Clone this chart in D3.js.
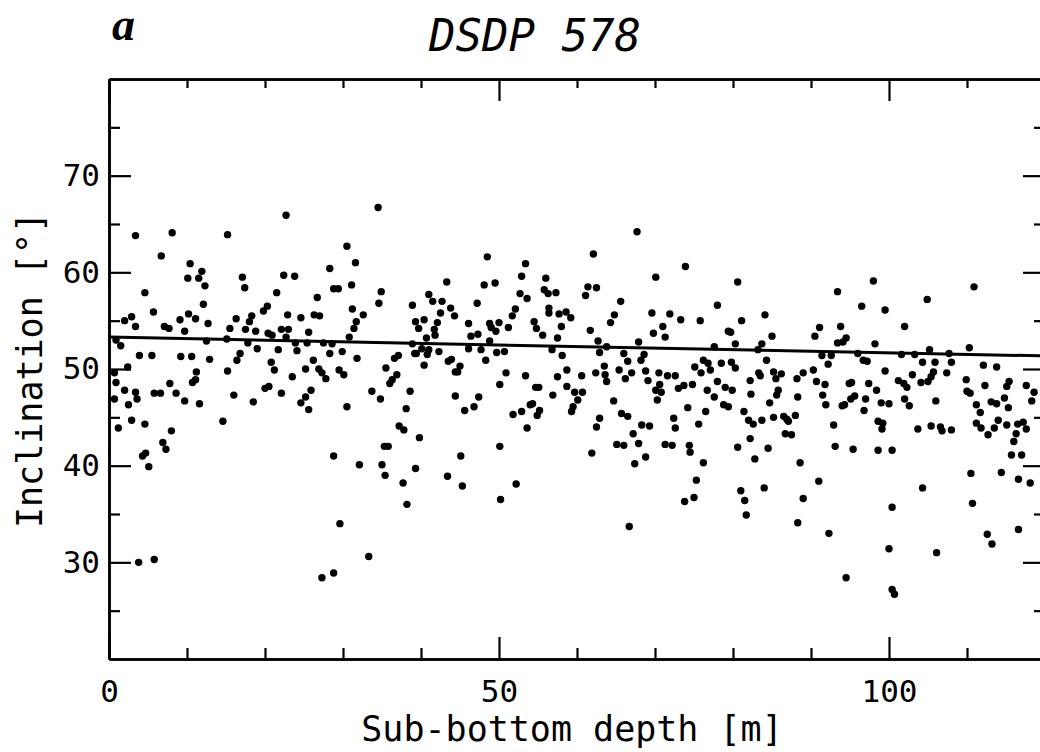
<!DOCTYPE html>
<html>
<head>
<meta charset="utf-8">
<script src="https://cdn.jsdelivr.net/npm/d3@7"></script>
<style>
  body { margin: 0; background: #fff; }
  svg { display: block; }
</style>
</head>
<body>
<svg id="chart" width="1040" height="752"></svg>
<script>
// data: sub-bottom depth [m] and inclination [deg]
var depth = [
  3.4,8.1,15.2,6.7,10.4,11.9,10.1,11.5,17.1,12.3,17.4,4.6,12.1,5.7,2.9,2.0,3.4,7.1,7.7,9.1,
  10.2,11.1,9.7,12.7,15.5,16.3,17.5,18.0,18.3,18.8,0.9,1.5,12.5,15.1,17.8,19.0,3.9,5.5,9.2,10.6,
  12.9,16.8,16.4,2.4,0.7,11.2,15.2,11.1,10.7,7.8,0.9,2.0,3.4,5.8,6.6,8.6,3.6,0.7,2.5,9.7,
  11.6,16.0,18.5,2.9,4.6,1.2,14.6,8.0,6.9,7.3,4.7,4.3,5.1,3.8,5.8,
  22.7,34.5,30.5,31.6,28.3,22.4,23.8,21.5,28.8,29.4,31.1,34.9,34.6,26.7,20.3,19.8,22.9,24.6,26.3,27.0,
  31.2,32.6,31.7,31.4,22.1,23.0,25.6,20.4,20.9,22.7,30.8,23.9,25.4,27.5,28.6,21.7,24.1,28.3,29.9,31.8,
  37.1,36.6,20.8,21.2,26.2,25.2,26.9,27.3,27.8,29.5,30.1,35.5,36.9,36.3,36.0,23.5,20.5,20.0,22.1,25.9,
  25.2,24.6,25.6,30.5,33.7,34.8,38.6,38.1,37.2,37.8,35.3,35.8,28.8,32.1,35.0,35.4,37.7,38.2,29.6,33.3,
  27.3,28.8,
  38.9,39.3,39.7,40.4,41.0,41.5,42.7,43.3,42.5,42.1,41.7,41.8,40.7,43.8,44.3,38.9,39.2,39.4,40.1,40.8,
  41.0,42.3,40.4,43.5,43.9,45.0,44.4,44.7,44.4,45.6,46.8,47.4,39.8,39.3,45.1,43.4,45.3,48.5,48.1,49.5,
  47.2,46.1,46.4,47.3,46.1,47.7,48.3,48.8,49.0,49.6,50.0,48.8,49.7,50.7,51.2,51.7,52.1,52.7,52.9,53.4,
  53.6,54.5,54.8,55.6,56.0,55.8,56.3,57.3,56.4,56.4,57.7,58.6,58.0,57.5,56.8,58.1,58.7,57.5,58.7,56.9,
  50.9,50.1,53.4,54.7,55.1,54.0,54.3,55.2,54.9,52.9,51.8,53.6,50.1,52.2,50.2,
  59.2,67.7,62.1,73.9,70.1,61.4,62.5,61.1,65.6,78.0,64.8,64.3,61.7,69.6,71.9,73.3,75.8,71.0,69.8,71.3,
  62.7,67.9,63.8,62.9,66.0,68.6,66.5,68.2,77.6,63.5,60.6,62.4,63.6,63.8,65.4,66.2,67.0,68.8,69.1,70.5,
  71.6,72.6,70.6,70.1,70.8,70.3,73.0,73.7,74.8,75.1,76.2,76.8,77.1,75.9,78.0,76.7,77.6,76.5,74.2,75.6,
  59.7,60.7,60.1,59.5,59.3,64.7,62.9,62.5,65.7,66.5,68.3,69.3,67.2,67.9,65.1,66.0,68.8,67.4,61.9,72.4,
  72.6,71.3,72.2,74.4,74.5,76.2,75.3,73.8,75.0,66.7,
  80.6,98.0,93.4,96.5,81.1,84.1,85.0,79.4,79.7,91.1,90.5,93.8,94.5,94.1,93.4,80.3,83.7,83.2,78.5,79.8,
  80.3,84.3,91.4,92.6,92.2,96.0,96.7,97.2,79.0,79.9,82.2,83.3,83.5,82.3,85.2,86.2,85.5,88.2,89.0,90.3,
  90.7,91.8,85.8,85.6,88.3,84.7,91.5,91.9,95.2,94.9,97.4,95.6,95.1,94.3,94.0,97.0,96.8,78.8,79.4,81.4,
  82.0,82.6,83.7,85.2,86.5,87.1,88.0,86.7,87.5,86.9,92.9,82.2,80.6,84.5,82.8,93.1,95.4,88.6,91.0,81.0,
  81.5,81.7,84.0,89.0,88.3,92.3,94.5,
  110.9,104.9,99.5,102.0,98.2,101.6,103.3,105.2,107.7,110.3,104.3,105.9,108.0,112.1,113.8,99.5,101.2,101.9,102.3,103.0,
  104.1,105.0,105.7,105.4,107.4,109.9,112.3,115.4,115.1,117.6,118.6,118.3,98.4,99.0,100.0,102.0,102.6,106.0,110.0,110.4,
  111.2,111.7,113.1,113.8,114.8,115.3,98.6,99.2,99.1,103.7,105.4,106.6,106.8,108.0,111.2,111.8,112.7,113.5,114.0,115.1,
  116.5,117.2,117.6,116.3,116.0,115.7,117.0,98.6,100.4,110.5,114.4,116.6,118.1,104.3,110.7,100.4,116.6,112.6,113.2,100.0,
  106.1,100.4,100.7
];

var inclination = [
  63.8,64.1,63.9,61.7,60.9,60.1,59.4,59.4,59.5,58.6,58.4,57.9,56.7,55.9,55.4,55.0,54.4,54.4,54.2,55.1,
  55.7,55.2,53.9,54.7,54.2,55.2,54.1,54.9,55.5,53.9,53.0,52.4,52.9,53.1,52.7,52.1,51.4,51.4,51.3,51.3,
  51.0,51.6,50.9,50.2,49.6,49.7,49.8,48.9,48.6,48.5,48.6,47.8,47.6,47.5,47.5,47.5,46.9,46.9,46.3,46.7,
  46.4,47.3,46.6,44.7,44.3,43.9,44.6,43.6,42.4,41.7,41.3,41.0,39.9,30.0,30.3,
  65.9,66.7,62.7,61.0,60.4,59.7,59.6,57.9,58.3,58.3,58.7,58.0,56.8,57.4,56.5,56.0,55.6,55.3,55.6,55.5,
  56.2,55.6,54.9,54.2,54.1,54.1,53.8,53.7,53.5,53.3,53.3,52.7,52.7,52.7,52.6,52.0,51.9,51.6,51.8,51.1,
  51.4,51.1,50.7,49.9,50.9,50.0,50.0,49.6,49.0,49.9,49.4,50.1,49.4,48.9,48.5,49.2,48.2,48.0,47.5,47.8,
  47.1,46.5,45.8,46.1,47.7,46.9,47.7,45.9,44.1,43.7,42.0,42.0,41.0,40.1,40.1,39.0,38.2,36.0,34.0,30.6,
  28.4,28.9,
  56.6,54.9,54.2,55.1,57.7,57.0,57.0,59.0,55.8,54.8,54.1,53.5,53.2,56.3,55.5,52.6,51.6,51.6,52.1,51.5,
  52.0,51.8,50.4,50.8,51.0,50.3,49.7,49.7,47.2,45.7,46.1,47.1,42.9,39.7,41.0,38.9,37.9,61.6,58.7,58.9,
  56.8,54.7,53.4,53.6,52.1,52.0,50.9,54.7,54.3,53.9,54.8,52.9,51.7,51.8,54.3,55.5,56.2,57.8,59.6,60.9,
  57.3,54.9,54.2,53.5,59.4,58.2,57.8,57.9,56.3,55.8,55.7,55.9,54.4,53.2,52.0,51.4,49.9,49.2,48.2,47.3,
  49.6,48.4,49.3,48.1,48.1,46.3,46.4,45.7,45.2,45.6,45.3,43.9,42.0,38.1,36.5,
  55.3,64.2,61.9,60.6,59.5,58.5,58.4,57.6,57.0,56.6,55.6,54.8,54.0,55.8,55.7,55.1,55.0,54.4,53.7,53.3,
  52.9,52.8,52.3,51.7,51.6,51.5,50.8,50.9,52.3,50.3,49.3,49.6,49.4,48.7,49.9,49.0,49.6,49.8,48.8,49.6,
  49.3,49.3,48.4,47.8,47.6,46.8,48.0,48.3,48.4,50.2,50.9,50.6,49.9,49.6,48.7,47.8,47.1,45.6,46.0,44.3,
  47.6,47.6,46.8,46.1,45.6,46.7,44.9,44.0,45.4,45.1,44.2,44.1,43.3,42.3,42.2,42.1,40.9,40.2,41.3,44.9,
  43.9,42.2,42.1,42.1,41.4,40.3,38.5,36.3,36.7,33.7,
  59.0,59.1,58.0,56.5,55.0,55.6,53.4,53.9,53.8,54.3,53.4,54.4,53.2,52.8,52.7,52.6,52.6,52.0,50.6,50.7,
  50.1,50.9,51.4,51.4,50.5,51.6,50.9,50.8,48.1,47.8,48.8,49.6,49.3,47.4,49.7,49.5,49.0,49.0,49.6,49.9,
  48.7,48.4,47.8,47.3,47.1,46.5,47.3,46.3,48.6,48.5,48.5,47.2,46.9,46.3,46.2,46.9,45.7,46.3,46.1,45.6,
  44.7,44.3,44.7,45.0,45.1,44.6,45.2,43.3,43.2,44.8,44.2,42.8,41.9,41.8,40.7,42.0,41.7,40.3,38.4,37.4,
  36.4,34.9,37.7,36.6,34.1,33.0,28.4,
  58.5,57.2,56.1,54.4,52.6,51.5,51.5,52.0,51.6,52.2,50.7,50.7,50.7,50.4,50.2,49.8,48.8,48.5,48.1,49.4,
  48.6,48.7,49.7,49.2,49.6,48.9,48.3,48.7,48.2,48.3,47.6,46.7,47.8,46.5,46.4,46.9,46.2,46.7,47.7,47.5,
  46.3,45.5,46.6,46.4,47.0,46.0,44.6,44.4,43.8,43.8,44.1,44.0,43.6,43.7,44.4,43.9,43.2,43.9,44.7,44.2,
  44.3,44.5,43.8,43.3,42.5,41.1,41.1,41.6,41.6,39.2,39.3,38.6,38.2,37.7,36.1,35.7,33.4,32.9,31.9,31.4,
  31.0,27.2,26.7
];

// fitted trend line, end points
var trendDepth = [0, 120];
var trendIncl = [53.3, 51.35];

var xMajor = [0, 50, 100];
var xMinor = [10, 20, 30, 40, 60, 70, 80, 90, 110];
var yMajor = [30, 40, 50, 60, 70];
var yMinor = [25, 35, 45, 55, 65, 75];

var margin = {left: 109, top: 79};
var w = 936, h = 580;

var svg = d3.select("#chart");
var g = svg.append("g").attr("transform", "translate(" + margin.left + "," + margin.top + ")");

var x = d3.scaleLinear().domain([0, 120]).range([0, w]);
var y = d3.scaleLinear().domain([20, 80]).range([h, 0]);

var mono = "'DejaVu Sans Mono', monospace";

// points
g.selectAll("circle.pt")
  .data(depth.map(function(d, i) { return [d, inclination[i]]; }))
  .enter()
  .append("circle")
  .attr("class", "pt")
  .attr("cx", d => x(d[0]))
  .attr("cy", d => y(d[1]))
  .attr("r", 3.7)
  .attr("fill", "#000");

// trend line
g.append("path")
  .datum(trendDepth.map((d, i) => [d, trendIncl[i]]))
  .attr("d", d3.line().x(d => x(d[0])).y(d => y(d[1])))
  .attr("stroke", "#000")
  .attr("stroke-width", 3)
  .attr("fill", "none");

function styleAxis(sel) {
  sel.selectAll("path").attr("stroke", "#000").attr("stroke-width", 2.6);
  sel.selectAll("line").attr("stroke", "#000").attr("stroke-width", 2.2);
  sel.selectAll("text").attr("fill", "#000").style("font-family", mono).style("font-size", "31px");
}

// bottom axis, ticks inward
g.append("g").attr("transform", "translate(0," + h + ")")
  .call(d3.axisBottom(x).tickValues(xMinor).tickSizeInner(-11).tickSizeOuter(0).tickFormat(""))
  .call(styleAxis);
g.append("g").attr("transform", "translate(0," + h + ")")
  .call(d3.axisBottom(x).tickValues(xMajor).tickSizeInner(-22).tickSizeOuter(0).tickPadding(21).tickFormat(d3.format("d")))
  .call(styleAxis);

// top axis
g.append("g")
  .call(d3.axisTop(x).tickValues(xMinor).tickSizeInner(-9).tickSizeOuter(0).tickFormat(""))
  .call(styleAxis);
g.append("g")
  .call(d3.axisTop(x).tickValues(xMajor).tickSizeInner(-22).tickSizeOuter(0).tickFormat(""))
  .call(styleAxis);

// left axis
g.append("g")
  .call(d3.axisLeft(y).tickValues(yMinor).tickSizeInner(-11).tickSizeOuter(0).tickFormat(""))
  .call(styleAxis);
g.append("g")
  .call(d3.axisLeft(y).tickValues(yMajor).tickSizeInner(-22).tickSizeOuter(0).tickPadding(9).tickFormat(d3.format("d")))
  .call(styleAxis);

// right axis (mostly outside the frame)
g.append("g").attr("transform", "translate(" + w + ",0)")
  .call(d3.axisRight(y).tickValues(yMinor).tickSizeInner(-11).tickSizeOuter(0).tickFormat(""))
  .call(styleAxis);
g.append("g").attr("transform", "translate(" + w + ",0)")
  .call(d3.axisRight(y).tickValues(yMajor).tickSizeInner(-22).tickSizeOuter(0).tickFormat(""))
  .call(styleAxis);

// labels
svg.append("text")
  .attr("x", 572).attr("y", 741)
  .attr("text-anchor", "middle")
  .style("font-family", mono).style("font-size", "35px")
  .text("Sub-bottom depth [m]");

svg.append("text")
  .attr("transform", "translate(42,370) rotate(-90)")
  .attr("text-anchor", "middle")
  .style("font-family", mono).style("font-size", "35px")
  .text("Inclination [°]");

svg.append("text")
  .attr("x", 535).attr("y", 51)
  .attr("text-anchor", "middle")
  .style("font-family", mono).style("font-style", "oblique").style("font-size", "44px")
  .text("DSDP 578");

svg.append("text")
  .attr("x", 112).attr("y", 40)
  .style("font-family", "'Liberation Serif', serif").style("font-style", "italic")
  .style("font-weight", "bold").style("font-size", "46px")
  .text("a");
</script>
</body>
</html>
